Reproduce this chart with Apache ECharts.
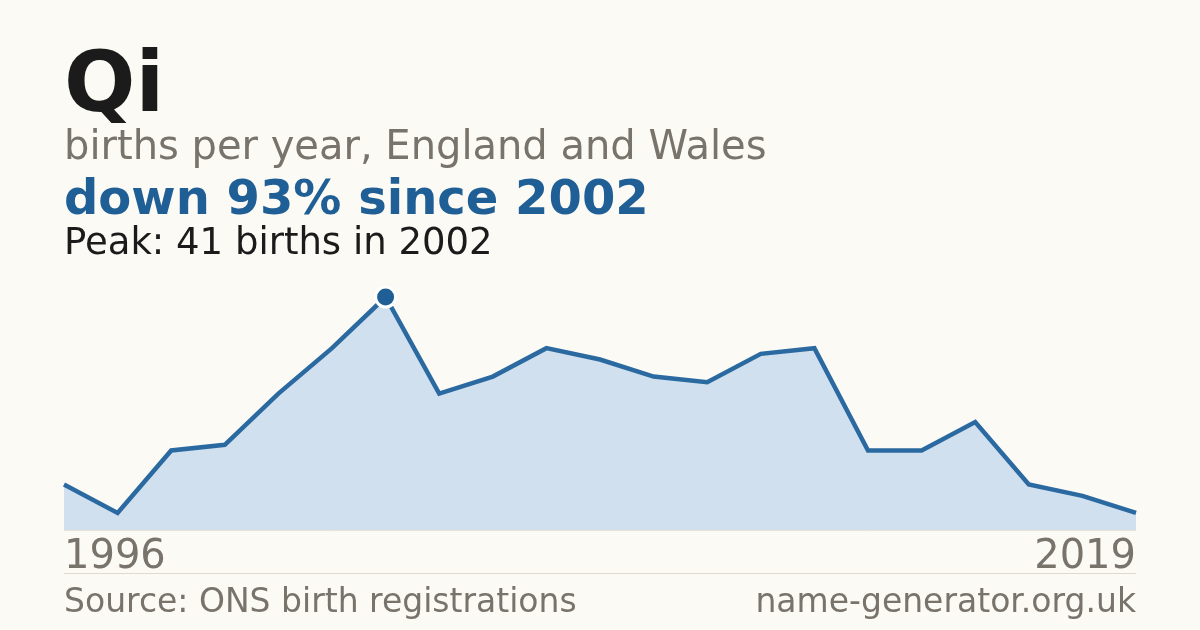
<!DOCTYPE html>
<html>
<head>
<meta charset="utf-8">
<script src="https://cdn.jsdelivr.net/npm/echarts@6/dist/echarts.min.js"></script>
<style>
html,body{margin:0;padding:0;background:#fbfaf5;}
#c{width:1200px;height:630px;}
</style>
</head>
<body>
<div id="c"></div>
<script>
const years = ['1996','1997','1998','1999','2000','2001','2002','2003','2004','2005','2006','2007','2008','2009','2010','2011','2012','2013','2014','2015','2019'];
const births = [8,3,14,15,24,32,41,24,27,32,30,27,26,31,32,14,14,19,8,6,3];
const titleText = 'Qi';
const subtitleText = 'births per year, England and Wales';
const headlineText = 'down 93% since 2002';
const peakText = 'Peak: 41 births in 2002';
const sourceText = 'Source: ONS birth registrations';
const siteText = 'name-generator.org.uk';

const peakVal = Math.max(...births);
const peakIdx = births.indexOf(peakVal);
const FONT = 'DejaVu Sans';
const chart = echarts.init(document.getElementById('c'));
chart.setOption({
  backgroundColor: '#fbfaf5',
  animation: false,
  grid: {left: 64, right: 64, top: 297, bottom: 100},
  xAxis: {
    type: 'category', data: years, boundaryGap: false,
    axisLine: {show: true, lineStyle: {color: '#e8e2d6', width: 1}},
    axisTick: {show: false},
    splitLine: {show: false},
    axisLabel: {
      interval: (i) => i === 0 || i === years.length - 1,
      showMinLabel: true, showMaxLabel: true,
      alignMinLabel: 'left', alignMaxLabel: 'right',
      fontFamily: FONT, fontSize: 40, color: '#78736b', margin: 8
    }
  },
  yAxis: {type: 'value', min: 0, max: peakVal, show: false, splitLine: {show: false}},
  series: [
    {
      type: 'line', data: births, symbol: 'none', clip: false,
      lineStyle: {color: '#2b69a1', width: 4.5, join: 'miter'},
      areaStyle: {color: '#d0e0ef', opacity: 1},
      z: 2
    },
    {
      type: 'scatter', data: [[peakIdx, peakVal]], symbol: 'circle', symbolSize: 20, clip: false,
      itemStyle: {color: '#1f5f96', borderColor: '#ffffff', borderWidth: 3, opacity: 1},
      z: 5
    }
  ],
  graphic: [
    {type: 'text', left: 64, top: 47, style: {text: titleText, font: 'bold 84px "DejaVu Sans"', fill: '#1b1b1b'}},
    {type: 'text', left: 64, top: 129, style: {text: subtitleText, font: '40px "DejaVu Sans"', fill: '#78736b'}},
    {type: 'text', left: 64, top: 178, style: {text: headlineText, font: 'bold 48px "DejaVu Sans"', fill: '#1f5f96'}},
    {type: 'text', left: 64, top: 226, style: {text: peakText, font: '37px "DejaVu Sans"', fill: '#1b1b1b'}},
    {type: 'line', shape: {x1: 64, y1: 573.5, x2: 1136, y2: 573.5}, style: {stroke: '#dedad0', lineWidth: 1}},
    {type: 'text', left: 64, top: 587, style: {text: sourceText, font: '33px "DejaVu Sans"', fill: '#78736b'}},
    {type: 'text', right: 64, top: 587, style: {text: siteText, font: '33px "DejaVu Sans"', fill: '#78736b'}}
  ]
});
</script>
</body>
</html>
